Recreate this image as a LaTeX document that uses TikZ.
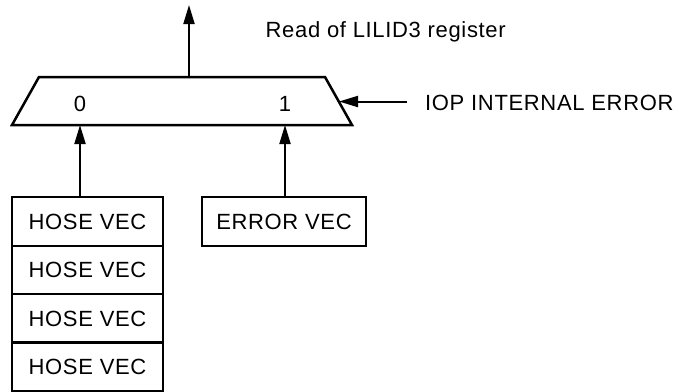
\documentclass[tikz,border=0pt]{standalone}
\usepackage{fontspec}
\setmainfont{Liberation Sans}[LetterSpace=3]
\usetikzlibrary{arrows.meta}
\begin{document}
\begin{tikzpicture}[x=1pt,y=-1pt,
  every node/.style={font=\fontsize{22}{26}\selectfont},
  vecbox/.style={draw,line width=2pt,inner sep=0pt,minimum height=48.5pt},
  sig/.style={line width=2pt,-{Triangle[length=19pt,width=11pt]}},
  lbl/.style={inner sep=0pt,anchor=base west}]
\useasboundingbox (0,0) rectangle (676,391);

% selector body
\coordinate (tl) at (39,77);
\coordinate (tr) at (325,77);
\coordinate (br) at (352,125);
\coordinate (bl) at (12,125);
\draw[line width=2.5pt,line join=miter] (tl) -- (tr) -- (br) -- (bl) -- cycle;

% ports of the selector
\coordinate (out) at (189,77);
\coordinate (outend) at (189,5);
\coordinate (in0) at (80,125);
\coordinate (in1) at (285,125);
\coordinate (sel) at (339,101.5);
\coordinate (selsrc) at (407,101.5);

\node (d0) at (80,103.5) {0};
\node (d1) at (285,103.5) {1};

% vector sources
\node[vecbox,minimum width=151pt] (h1) at (87.5,221.5) {HOSE VEC};
\node[vecbox,minimum width=151pt] (h2) at (87.5,270) {HOSE VEC};
\node[vecbox,minimum width=151pt] (h3) at (87.5,318.5) {HOSE VEC};
\node[vecbox,minimum width=151pt] (h4) at (87.5,366.5) {HOSE VEC};
\node[vecbox,minimum width=163.5pt] (ev) at (284,221.5) {ERROR VEC};

% labels
\node[lbl] (rd) at (265.5,37.3) {Read of LILID3 register};
\node[lbl] (iop) at (425,110) {IOP INTERNAL ERROR};

% signals
\draw[sig] (out) -- (outend);
\draw[sig] (h1.north -| in0) -- (in0);
\draw[sig] (ev.north -| in1) -- (in1);
\draw[sig] (selsrc) -- (sel);
\end{tikzpicture}
\end{document}
